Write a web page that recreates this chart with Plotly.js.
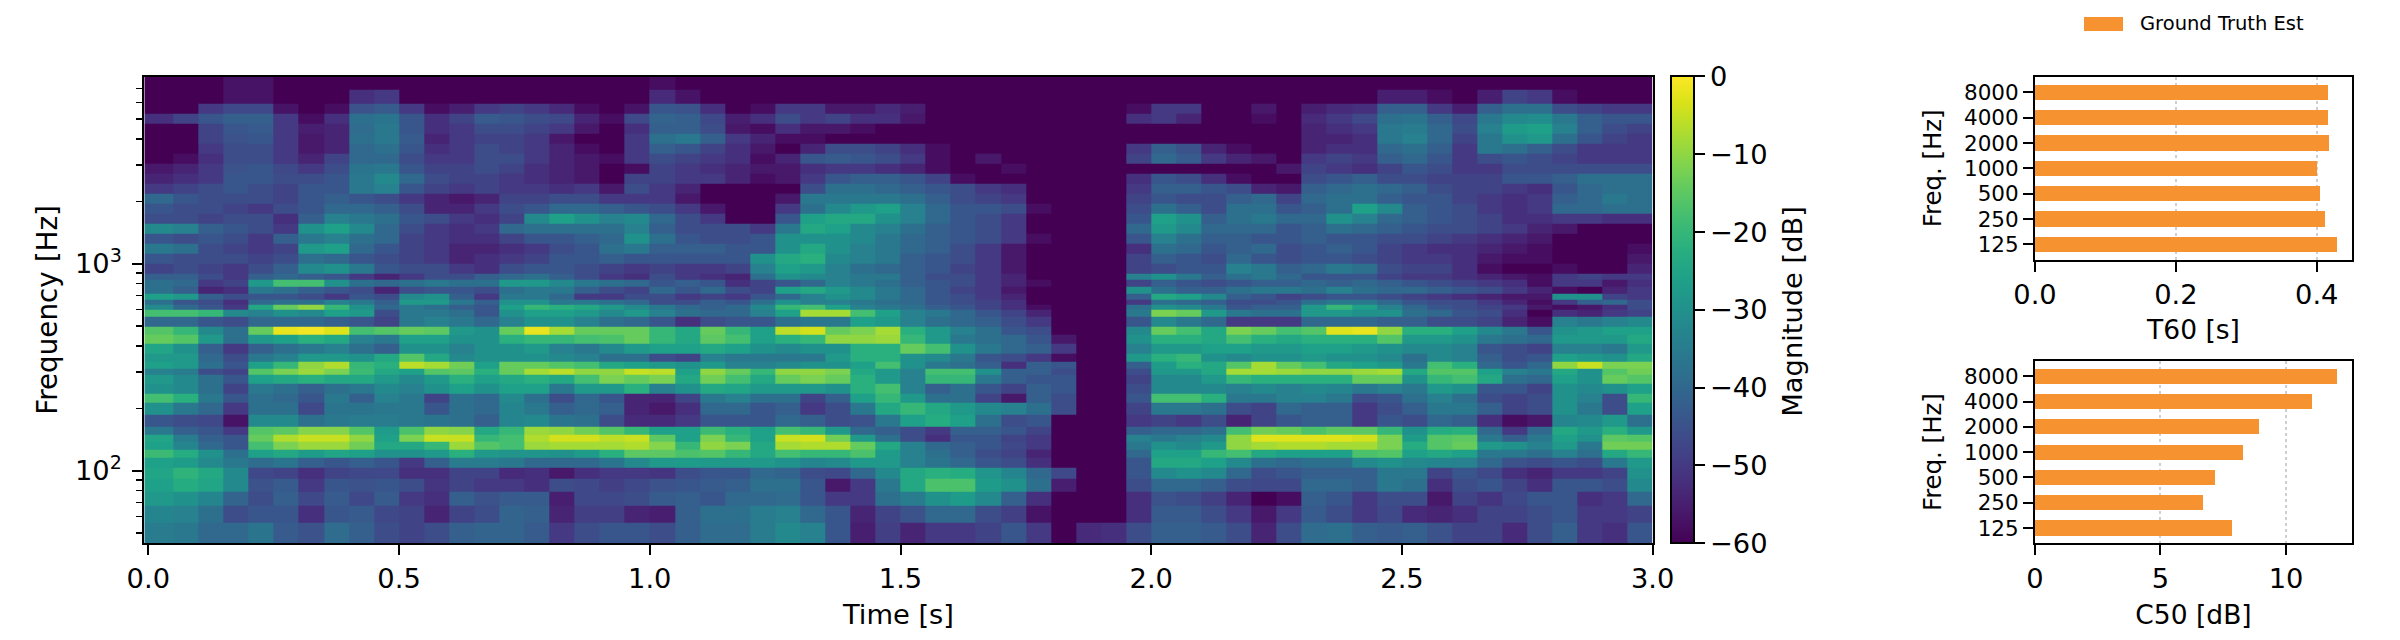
<!DOCTYPE html>
<html><head><meta charset="utf-8">
<script src="https://cdn.plot.ly/plotly-3.0.1.min.js"></script>
<style>html,body{margin:0;padding:0;background:#fff}</style></head>
<body><div id="chart" style="width:2400px;height:640px"></div>
<script>
const timeEdges=[-0.008,0.05,0.1,0.15,0.2,0.25,0.3,0.35,0.4,0.45,0.5,0.55,0.6,0.65,0.7,0.75,0.8,0.85,0.9,0.95,1.0,1.05,1.1,1.15,1.2,1.25,1.3,1.35,1.4,1.45,1.5,1.55,1.6,1.65,1.7,1.75,1.8,1.85,1.9,1.95,2.0,2.05,2.1,2.15,2.2,2.25,2.3,2.35,2.4,2.45,2.5,2.55,2.6,2.65,2.7,2.75,2.8,2.85,2.9,2.95,3.0];
const freqEdgesTopDown=[8000,6902,5951,5324,4765,4262,3814,3412,3053,2731,2444,2186,1957,1751,1566,1401,1254,1122,1004,898,834,774,719,668,631,597,555,496,452,412,369,336,312,290,264,236,212,186,163,149,138,126,115,103,92,79,67.5,56,44.6];
const magnitudeTopDown=[
[-60,-60,-60,-57,-57,-60,-60,-60,-60,-60,-60,-60,-60,-60,-60,-60,-60,-60,-60,-60, -58,-60,-60,-60,-60,-60,-60,-60,-60,-60,-60,-60,-60,-60,-60,-60,-60,-60,-60,-60, -60,-60,-60,-60,-60,-60,-60,-60,-60,-60,-60,-60,-60,-60,-60,-60,-60,-60,-60,-60],
[-60,-60,-60,-57,-57,-60,-60,-60,-52,-50,-60,-60,-60,-60,-60,-60,-60,-60,-60,-60, -53,-57,-60,-60,-60,-60,-60,-60,-60,-60,-60,-60,-60,-60,-60,-60,-60,-60,-60,-60, -60,-60,-60,-60,-60,-60,-60,-60,-60,-55,-55,-58,-60,-55,-48,-50,-58,-60,-60,-60],
[-60,-60,-50,-47,-47,-57,-60,-58,-45,-43,-50,-58,-55,-50,-48,-50,-53,-58,-60,-57, -44,-45,-52,-60,-58,-50,-50,-56,-56,-53,-55,-60,-60,-60,-60,-60,-60,-60,-60,-58, -50,-50,-60,-60,-56,-60,-55,-53,-52,-42,-42,-50,-55,-42,-38,-38,-46,-48,-50,-50],
[-52,-48,-44,-42,-42,-50,-58,-52,-38,-37,-44,-52,-48,-43,-44,-46,-47,-54,-58,-47, -41,-42,-47,-55,-52,-46,-50,-48,-52,-52,-56,-60,-60,-60,-60,-60,-60,-60,-60,-52, -50,-54,-60,-60,-58,-60,-53,-50,-47,-38,-37,-42,-47,-36,-32,-31,-36,-42,-44,-44],
[-60,-60,-48,-44,-43,-50,-55,-54,-39,-36,-44,-52,-50,-46,-46,-48,-50,-56,-60,-52, -42,-42,-46,-56,-58,-52,-56,-56,-58,-60,-60,-60,-60,-60,-60,-60,-60,-60,-60,-60, -60,-60,-60,-60,-60,-60,-54,-52,-50,-36,-35,-40,-46,-34,-27,-26,-34,-42,-46,-48],
[-60,-60,-48,-45,-44,-50,-56,-54,-38,-36,-43,-54,-50,-48,-48,-50,-56,-60,-60,-50, -38,-36,-42,-50,-54,-58,-58,-60,-60,-60,-60,-60,-60,-60,-60,-60,-60,-60,-60,-60, -60,-60,-60,-60,-60,-60,-54,-54,-52,-36,-34,-40,-48,-36,-30,-28,-38,-44,-48,-50],
[-60,-60,-50,-46,-46,-50,-56,-54,-40,-38,-44,-52,-50,-46,-48,-50,-54,-58,-60,-50, -42,-44,-48,-52,-56,-60,-54,-46,-46,-48,-52,-58,-60,-60,-60,-60,-60,-60,-60,-50, -42,-45,-54,-58,-60,-60,-54,-52,-52,-40,-38,-42,-50,-36,-38,-42,-46,-50,-50,-50],
[-60,-58,-52,-46,-46,-50,-54,-48,-40,-40,-46,-50,-50,-46,-46,-50,-54,-56,-58,-50, -46,-48,-50,-52,-58,-54,-44,-43,-44,-46,-50,-58,-60,-56,-60,-60,-60,-60,-60,-48, -40,-43,-50,-54,-56,-60,-50,-48,-50,-42,-40,-44,-50,-46,-44,-46,-48,-50,-50,-50],
[-56,-54,-50,-45,-44,-47,-50,-46,-37,-36,-44,-48,-48,-46,-48,-52,-54,-56,-60,-58, -48,-50,-52,-54,-56,-56,-52,-50,-50,-52,-54,-58,-60,-60,-58,-60,-60,-60,-60,-60, -60,-60,-60,-60,-60,-56,-48,-50,-52,-48,-44,-46,-50,-50,-46,-46,-46,-46,-46,-46],
[-54,-52,-50,-44,-44,-46,-46,-44,-36,-32,-40,-46,-48,-48,-50,-52,-54,-56,-60,-48, -48,-50,-50,-54,-58,-56,-50,-44,-42,-42,-44,-48,-58,-60,-60,-60,-60,-60,-60,-52, -44,-46,-52,-58,-60,-60,-46,-44,-42,-46,-46,-48,-48,-48,-44,-44,-42,-38,-38,-38],
[-50,-48,-46,-44,-46,-48,-44,-44,-36,-34,-44,-48,-50,-48,-50,-50,-52,-50,-56,-46, -50,-54,-60,-60,-60,-60,-46,-38,-38,-40,-42,-44,-46,-50,-52,-60,-60,-60,-60,-50, -42,-42,-44,-46,-54,-56,-42,-40,-38,-40,-42,-46,-48,-48,-50,-52,-44,-40,-38,-38],
[-40,-44,-46,-46,-46,-48,-44,-42,-44,-46,-50,-54,-56,-54,-48,-48,-46,-46,-50,-50, -50,-56,-60,-60,-60,-56,-36,-36,-36,-36,-38,-42,-46,-48,-50,-60,-60,-60,-60,-48, -44,-46,-46,-42,-40,-48,-40,-38,-38,-42,-44,-44,-48,-50,-52,-50,-42,-40,-36,-38],
[-44,-46,-46,-48,-50,-46,-44,-40,-40,-42,-46,-54,-54,-50,-46,-44,-40,-40,-42,-44, -46,-50,-56,-60,-60,-50,-38,-32,-28,-26,-34,-40,-44,-44,-46,-58,-60,-60,-60,-46, -38,-42,-46,-38,-38,-44,-42,-38,-26,-32,-42,-44,-46,-50,-52,-50,-40,-40,-38,-38],
[-46,-46,-48,-46,-46,-52,-42,-34,-36,-38,-44,-46,-50,-52,-48,-32,-26,-30,-34,-32, -40,-46,-50,-60,-60,-44,-26,-24,-24,-30,-34,-40,-44,-46,-50,-60,-60,-60,-60,-44, -26,-30,-42,-38,-36,-40,-40,-30,-34,-40,-42,-44,-46,-48,-52,-52,-50,-50,-52,-52],
[-32,-34,-42,-44,-46,-50,-30,-26,-32,-40,-46,-50,-52,-50,-40,-38,-38,-38,-38,-34, -42,-46,-46,-46,-50,-36,-24,-26,-32,-34,-38,-42,-44,-46,-50,-60,-60,-60,-60,-40, -28,-32,-40,-40,-40,-44,-42,-38,-40,-42,-44,-46,-46,-48,-50,-54,-56,-60,-60,-60],
[-44,-46,-44,-46,-50,-42,-36,-34,-38,-40,-48,-50,-52,-52,-48,-44,-44,-42,-40,-30, -38,-44,-46,-46,-44,-30,-30,-30,-32,-36,-40,-42,-44,-46,-50,-58,-60,-60,-60,-44, -34,-38,-42,-42,-44,-44,-42,-44,-44,-46,-46,-48,-50,-52,-54,-56,-60,-60,-60,-60],
[-36,-38,-46,-48,-50,-48,-28,-26,-40,-44,-48,-50,-54,-54,-52,-50,-46,-44,-38,-36, -42,-42,-42,-44,-44,-30,-24,-30,-34,-36,-40,-42,-46,-50,-56,-60,-60,-60,-60,-52, -38,-40,-44,-42,-40,-46,-44,-42,-44,-48,-50,-52,-52,-54,-56,-58,-60,-60,-60,-58],
[-44,-46,-46,-46,-48,-46,-38,-40,-44,-46,-48,-50,-54,-52,-50,-48,-44,-44,-42,-44, -44,-44,-44,-44,-30,-24,-22,-32,-34,-36,-42,-44,-46,-50,-56,-60,-60,-60,-60,-48, -42,-44,-46,-40,-44,-46,-44,-44,-46,-48,-50,-50,-52,-56,-58,-58,-60,-60,-60,-56],
[-48,-46,-48,-50,-46,-42,-32,-30,-36,-44,-46,-46,-50,-52,-46,-44,-44,-46,-48,-50, -48,-50,-50,-48,-34,-26,-28,-34,-38,-40,-42,-44,-48,-50,-56,-60,-60,-60,-60,-48, -46,-44,-44,-34,-36,-42,-40,-36,-38,-46,-48,-48,-52,-58,-60,-60,-58,-60,-60,-54],
[-42,-42,-46,-50,-42,-40,-42,-44,-50,-54,-50,-46,-46,-42,-40,-38,-42,-46,-50,-52, -46,-50,-52,-54,-38,-30,-32,-34,-36,-36,-42,-46,-46,-50,-54,-60,-60,-60,-60,-34, -30,-36,-42,-38,-36,-40,-44,-44,-44,-48,-50,-50,-52,-54,-56,-58,-50,-48,-50,-50],
[-38,-40,-50,-48,-28,-18,-18,-30,-38,-40,-38,-36,-38,-38,-28,-28,-32,-36,-38,-40, -44,-42,-44,-52,-48,-44,-40,-34,-36,-38,-42,-44,-46,-50,-54,-58,-60,-60,-60,-48, -42,-44,-46,-44,-42,-42,-40,-42,-40,-42,-44,-46,-48,-50,-52,-58,-50,-50,-56,-52],
[-38,-42,-54,-52,-36,-38,-42,-44,-46,-54,-46,-44,-44,-46,-38,-36,-36,-42,-46,-48, -40,-44,-40,-46,-48,-26,-24,-28,-32,-36,-40,-44,-48,-50,-56,-60,-60,-60,-60,-30, -38,-42,-42,-38,-36,-36,-38,-34,-38,-40,-40,-42,-44,-46,-50,-54,-58,-60,-54,-50],
[-26,-28,-42,-46,-44,-44,-46,-50,-44,-46,-32,-30,-42,-50,-36,-36,-40,-50,-50,-46, -46,-50,-48,-50,-44,-40,-34,-30,-32,-36,-40,-44,-46,-50,-54,-60,-60,-60,-60,-42, -24,-26,-32,-42,-44,-48,-46,-44,-44,-46,-48,-50,-52,-54,-56,-56,-30,-30,-48,-50],
[-38,-44,-46,-52,-40,-38,-38,-34,-36,-42,-28,-28,-36,-42,-30,-30,-36,-36,-38,-40, -46,-46,-42,-44,-38,-30,-34,-34,-36,-38,-40,-44,-46,-48,-52,-60,-60,-60,-60,-50, -38,-40,-42,-46,-46,-44,-38,-36,-36,-40,-44,-46,-46,-50,-54,-58,-50,-42,-40,-46],
[-32,-40,-44,-50,-24,-14,-10,-20,-30,-40,-36,-38,-42,-44,-26,-20,-22,-24,-28,-32, -36,-40,-42,-40,-32,-20,-18,-26,-34,-36,-38,-42,-44,-48,-52,-58,-60,-60,-60,-38, -30,-32,-36,-44,-42,-42,-28,-20,-26,-34,-40,-44,-46,-48,-50,-56,-58,-56,-52,-46],
[-18,-18,-20,-32,-34,-30,-32,-26,-28,-46,-36,-36,-38,-44,-30,-26,-26,-28,-32,-28, -34,-38,-40,-40,-34,-26,-8,-8,-18,-26,-34,-36,-40,-44,-48,-54,-60,-60,-60,-36, -12,-14,-28,-36,-38,-38,-28,-28,-30,-30,-38,-40,-44,-46,-52,-60,-52,-54,-50,-48],
[-40,-40,-44,-46,-40,-40,-40,-42,-44,-48,-36,-34,-36,-40,-34,-30,-30,-34,-38,-40, -44,-52,-46,-44,-44,-38,-36,-36,-26,-28,-34,-38,-40,-42,-46,-50,-60,-60,-60,-44, -32,-36,-40,-50,-50,-50,-40,-40,-40,-42,-42,-46,-46,-48,-54,-58,-34,-36,-34,-32],
[-16,-20,-32,-38,-14,-2,-1,-3,-18,-16,-14,-15,-28,-30,-14,-2,-8,-14,-14,-14, -20,-24,-14,-20,-26,-6,-4,-14,-12,-8,-22,-28,-34,-38,-44,-46,-60,-60,-60,-32, -14,-18,-24,-12,-14,-18,-16,-3,-2,-10,-22,-22,-26,-32,-36,-44,-30,-28,-26,-26],
[-14,-16,-28,-38,-28,-26,-22,-24,-34,-36,-26,-26,-30,-30,-22,-20,-20,-18,-17,-14, -20,-24,-15,-18,-26,-22,-20,-10,-10,-9,-20,-28,-36,-38,-40,-44,-56,-60,-60,-30, -22,-22,-24,-18,-22,-24,-22,-22,-22,-16,-28,-28,-30,-36,-38,-40,-28,-28,-28,-24],
[-25,-30,-42,-50,-42,-38,-36,-34,-38,-42,-30,-30,-34,-30,-30,-28,-34,-36,-32,-28, -26,-26,-24,-26,-30,-32,-30,-30,-22,-22,-14,-18,-30,-36,-40,-42,-50,-60,-60,-34, -28,-28,-26,-26,-28,-28,-26,-26,-28,-30,-32,-32,-34,-44,-46,-48,-34,-34,-36,-28],
[-28,-28,-40,-46,-36,-34,-28,-28,-30,-24,-16,-24,-32,-30,-30,-30,-32,-34,-38,-38, -46,-48,-34,-36,-36,-36,-36,-28,-22,-22,-30,-32,-36,-44,-46,-50,-58,-60,-60,-28, -22,-20,-30,-32,-30,-30,-28,-30,-30,-32,-38,-32,-34,-42,-46,-44,-26,-28,-30,-24],
[-26,-28,-38,-44,-26,-20,-10,-7,-20,-22,-6,-8,-13,-26,-14,-14,-16,-18,-24,-26, -28,-30,-28,-34,-34,-32,-30,-30,-26,-18,-30,-36,-38,-42,-52,-42,-44,-60,-60,-42, -27,-22,-24,-16,-8,-14,-18,-24,-26,-28,-36,-18,-22,-40,-44,-40,-10,-5,-12,-12],
[-34,-35,-46,-48,-16,-12,-9,-12,-19,-24,-26,-16,-15,-22,-14,-8,-6,-10,-10,-5, -6,-26,-10,-14,-20,-10,-10,-12,-24,-28,-34,-18,-18,-30,-42,-42,-46,-60,-60,-46, -28,-28,-24,-8,-8,-9,-10,-10,-9,-8,-24,-16,-16,-26,-34,-36,-24,-30,-16,-13],
[-28,-32,-38,-44,-26,-24,-22,-24,-24,-28,-32,-28,-22,-26,-24,-22,-24,-18,-12,-14, -12,-24,-13,-18,-24,-14,-12,-14,-22,-28,-34,-20,-20,-36,-42,-44,-44,-60,-60,-48, -32,-32,-28,-20,-22,-22,-22,-22,-14,-14,-30,-20,-18,-24,-38,-40,-26,-30,-14,-16],
[-30,-32,-38,-48,-36,-38,-42,-38,-36,-32,-34,-30,-26,-30,-26,-26,-36,-28,-28,-22, -34,-30,-24,-25,-28,-28,-28,-30,-22,-18,-34,-42,-38,-44,-48,-42,-44,-60,-60,-46, -32,-32,-32,-34,-32,-34,-32,-33,-36,-34,-36,-28,-30,-44,-44,-48,-30,-32,-30,-26],
[-18,-22,-36,-44,-38,-40,-44,-36,-42,-34,-36,-48,-38,-40,-32,-38,-46,-40,-44,-54, -54,-48,-36,-34,-38,-38,-48,-42,-26,-20,-28,-38,-38,-48,-56,-42,-46,-60,-60,-44, -18,-18,-22,-36,-36,-34,-34,-36,-46,-44,-38,-34,-38,-46,-48,-46,-30,-34,-46,-20],
[-30,-36,-40,-50,-38,-38,-47,-37,-37,-36,-36,-44,-38,-40,-33,-36,-42,-40,-42,-54, -56,-52,-40,-40,-44,-42,-50,-46,-36,-24,-20,-24,-28,-32,-34,-38,-46,-60,-60,-48, -36,-36,-38,-46,-48,-40,-42,-42,-50,-46,-42,-36,-36,-42,-48,-46,-30,-36,-46,-26],
[-44,-46,-47,-57,-32,-32,-38,-36,-35,-35,-36,-37,-38,-42,-33,-32,-37,-38,-46,-53, -53,-50,-44,-44,-44,-40,-42,-46,-45,-36,-26,-23,-26,-38,-46,-44,-60,-60,-60,-50, -48,-50,-46,-54,-48,-44,-42,-42,-50,-44,-46,-40,-42,-52,-58,-56,-33,-32,-28,-38],
[-36,-42,-44,-50,-16,-15,-11,-11,-16,-27,-17,-10,-11,-24,-20,-9,-10,-13,-16,-20, -26,-26,-19,-22,-26,-18,-20,-28,-40,-42,-46,-50,-42,-42,-44,-48,-60,-60,-60,-42, -40,-40,-38,-18,-13,-14,-17,-15,-15,-20,-30,-23,-22,-40,-50,-40,-24,-28,-22,-28],
[-25,-35,-42,-44,-14,-7,-5,-5,-10,-26,-12,-5,-5,-20,-18,-7,-4,-4,-6,-5, -15,-26,-12,-20,-26,-5,-4,-13,-28,-38,-46,-52,-44,-44,-48,-50,-60,-60,-60,-34, -36,-34,-32,-10,-3,-3,-3,-3,-4,-12,-27,-16,-15,-36,-42,-36,-26,-30,-15,-16],
[-26,-33,-40,-44,-18,-12,-9,-9,-13,-24,-24,-20,-9,-16,-18,-9,-8,-8,-8,-7, -11,-20,-10,-12,-24,-8,-7,-7,-14,-24,-34,-40,-42,-44,-47,-50,-60,-60,-60,-36, -30,-32,-28,-10,-8,-7,-7,-8,-8,-12,-23,-16,-14,-28,-30,-34,-28,-36,-13,-13],
[-19,-23,-30,-38,-26,-24,-27,-25,-26,-30,-30,-28,-22,-28,-29,-29,-30,-27,-22,-15, -15,-17,-16,-20,-24,-18,-20,-20,-17,-27,-34,-38,-42,-46,-48,-54,-60,-60,-60,-40, -26,-26,-20,-18,-24,-26,-26,-26,-17,-16,-26,-24,-26,-36,-36,-38,-34,-38,-24,-20],
[-26,-27,-32,-36,-39,-37,-42,-44,-42,-44,-50,-42,-35,-35,-36,-40,-40,-40,-37,-32, -28,-27,-28,-28,-28,-30,-33,-32,-28,-28,-34,-37,-40,-44,-46,-52,-60,-60,-60,-44, -24,-24,-26,-32,-38,-40,-38,-38,-32,-30,-32,-33,-34,-40,-45,-46,-44,-46,-36,-28],
[-25,-21,-24,-32,-47,-48,-52,-48,-47,-47,-52,-52,-48,-48,-53,-52,-56,-52,-50,-50, -51,-46,-44,-44,-40,-41,-46,-47,-40,-32,-24,-22,-23,-29,-33,-40,-47,-60,-60,-44, -32,-30,-32,-40,-46,-44,-42,-42,-42,-36,-36,-48,-44,-47,-52,-54,-50,-50,-48,-30],
[-26,-23,-25,-32,-45,-43,-50,-44,-45,-44,-46,-51,-48,-50,-50,-52,-46,-47,-49,-47, -45,-44,-43,-42,-38,-38,-44,-56,-50,-36,-24,-17,-17,-27,-30,-38,-55,-60,-60,-46, -40,-40,-42,-46,-47,-47,-40,-40,-42,-36,-38,-52,-46,-44,-48,-52,-44,-44,-46,-32],
[-28,-30,-33,-41,-46,-42,-47,-43,-47,-43,-50,-52,-42,-45,-43,-43,-55,-47,-47,-46, -43,-42,-44,-40,-40,-39,-44,-50,-50,-38,-35,-30,-27,-32,-42,-52,-60,-60,-60,-52, -45,-46,-49,-54,-60,-58,-42,-44,-50,-46,-46,-56,-48,-51,-47,-44,-44,-52,-50,-40],
[-33,-34,-38,-46,-44,-44,-52,-44,-43,-47,-48,-54,-48,-46,-41,-42,-54,-49,-49,-54, -55,-42,-38,-38,-35,-34,-40,-44,-54,-48,-45,-40,-40,-46,-49,-57,-60,-60,-60,-52, -43,-43,-46,-50,-56,-50,-43,-46,-50,-47,-53,-54,-52,-48,-48,-46,-44,-50,-50,-48],
[-35,-36,-40,-40,-37,-43,-45,-39,-42,-46,-48,-46,-42,-41,-41,-43,-50,-46,-44,-44, -46,-42,-39,-39,-35,-32,-34,-44,-55,-49,-54,-50,-50,-48,-44,-50,-60,-53,-52,-46, -42,-42,-43,-46,-54,-46,-39,-38,-42,-43,-42,-45,-48,-48,-53,-46,-42,-50,-52,-44]
];
const octaveBands=["125","250","500","1000","2000","4000","8000"];
const t60Values=[0.428,0.411,0.404,0.401,0.417,0.416,0.416];
const c50Values=[7.85,6.69,7.17,8.29,8.92,11.04,12.03];
const legendLabel="Ground Truth Est";
const orange="#f79231";
const font="DejaVu Sans";
const W=2400,H=640;

const magnitude=magnitudeTopDown.slice().reverse();
const freqEdges=freqEdgesTopDown.slice().reverse();

function boxAxis(o){return Object.assign({showline:true,mirror:true,linecolor:"#000",linewidth:2,ticks:"outside",ticklen:10,tickwidth:2,tickcolor:"#000",zeroline:false,showgrid:false,tickfont:{family:font,size:27.3,color:"#000"}},o);}
const catAxis=d=>boxAxis({domain:d,type:"category",categoryorder:"array",categoryarray:octaveBands,tickmode:"array",tickvals:octaveBands,ticktext:octaveBands,range:[-0.605,6.605],tickfont:{family:font,size:21.5,color:"#000"},title:{text:"Freq. [Hz]",font:{family:font,size:24.4,color:"#000"},standoff:15},automargin:false});
const grid={showgrid:true,gridcolor:"#cfcfcf",griddash:"dot",gridwidth:2};

const data=[
{type:"heatmap",x:timeEdges,y:freqEdges,z:magnitude,xaxis:"x",yaxis:"y",colorscale:"Viridis",zmin:-60,zmax:0,
 colorbar:{x:1671/W,xanchor:"left",xpad:0,y:(H-543.3)/H,yanchor:"bottom",ypad:0,lenmode:"pixels",len:466.6,thicknessmode:"pixels",thickness:22.7,outlinewidth:2,outlinecolor:"#000",ticks:"outside",ticklen:10,tickwidth:2,tickcolor:"#000",tickvals:[0,-10,-20,-30,-40,-50,-60],tickfont:{family:font,size:27.3,color:"#000"}}},
{type:"bar",orientation:"h",y:octaveBands,x:t60Values,xaxis:"x2",yaxis:"y2",width:0.6,marker:{color:orange},name:legendLabel,showlegend:false},
{type:"bar",orientation:"h",y:octaveBands,x:c50Values,xaxis:"x3",yaxis:"y3",width:0.6,marker:{color:orange},name:legendLabel,showlegend:false}
];
const minorFreq=[50,60,70,80,90,200,300,400,500,600,700,800,900,2000,3000,4000,5000,6000,7000];
const layout={width:W,height:H,margin:{l:0,r:0,t:0,b:0},paper_bgcolor:"#fff",plot_bgcolor:"#fff",showlegend:false,bargap:0,
 xaxis:boxAxis({domain:[144.3/W,1652.7/W],anchor:"y",range:[-0.008,3],tickvals:[0,0.5,1,1.5,2,2.5,3],tickformat:".1f",title:{text:"Time [s]",font:{family:font,size:27.3,color:"#000"},standoff:12}}),
 yaxis:boxAxis({domain:[(H-543.3)/H,(H-76.7)/H],anchor:"x",type:"log",range:[Math.log10(44.6),Math.log10(8000)],tickvals:[100,1000],ticktext:["10<sup>2</sup>","10<sup>3</sup>"],ticklabelstandoff:5,title:{text:"Frequency [Hz]",font:{family:font,size:27.8,color:"#000"},standoff:9},minor:{ticks:"outside",ticklen:6,tickwidth:1.4,tickcolor:"#000",tickvals:minorFreq}}),
 xaxis2:boxAxis(Object.assign({domain:[2035/W,2352/W],anchor:"y2",range:[0,0.45],tickvals:[0,0.2,0.4],tickformat:".1f",title:{text:"T60 [s]",font:{family:font,size:26.5,color:"#000"},standoff:11}},grid)),
 yaxis2:Object.assign(catAxis([(H-259.7)/H,(H-77)/H]),{anchor:"x2"}),
 xaxis3:boxAxis(Object.assign({domain:[2035/W,2352/W],anchor:"y3",range:[0,12.63],tickvals:[0,5,10],title:{text:"C50 [dB]",font:{family:font,size:26.5,color:"#000"},standoff:12}},grid)),
 yaxis3:Object.assign(catAxis([(H-543.3)/H,(H-361)/H]),{anchor:"x3"}),
 shapes:[{type:"rect",xref:"paper",yref:"paper",x0:2084/W,x1:2123/W,y0:1-31/H,y1:1-17/H,fillcolor:orange,line:{width:0}}],
 annotations:[
  {xref:"paper",yref:"paper",x:2138/W,y:1-24/H,xanchor:"left",yanchor:"middle",showarrow:false,text:legendLabel,font:{family:font,size:19.5,color:"#000"}},
  {xref:"paper",yref:"paper",x:1793/W,y:1-311.7/H,xanchor:"center",yanchor:"middle",showarrow:false,textangle:-90,text:"Magnitude [dB]",font:{family:font,size:27.3,color:"#000"}}
 ]
};
Plotly.newPlot("chart",data,layout,{displayModeBar:false,staticPlot:true});
</script></body></html>
